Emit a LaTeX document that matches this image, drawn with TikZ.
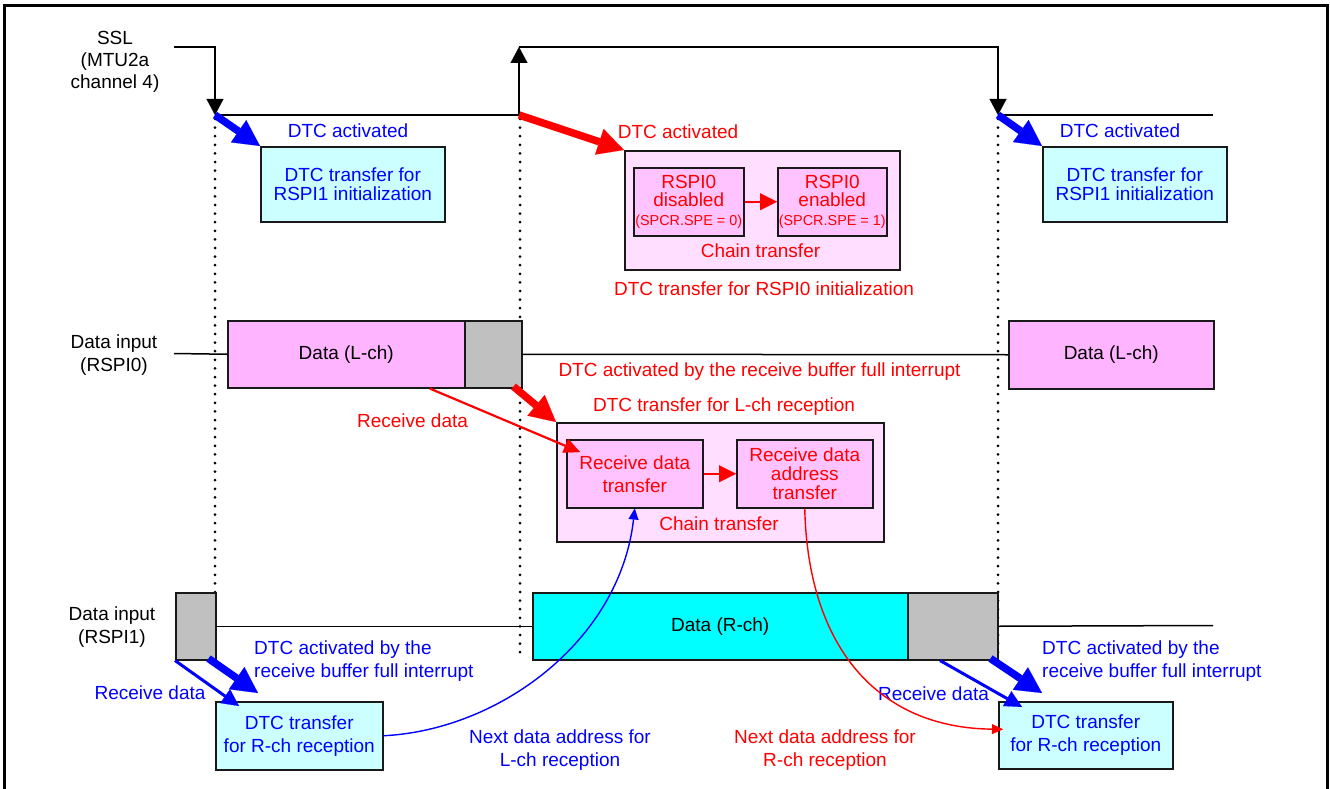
\documentclass[tikz,border=0pt]{standalone}
\usepackage{fontspec}
\setmainfont{Liberation Sans}
\usetikzlibrary{arrows.meta,calc}
\definecolor{rd}{RGB}{255,0,0}
\definecolor{bl}{RGB}{0,0,255}
\definecolor{ltcyan}{RGB}{204,255,255}
\definecolor{fullcyan}{RGB}{0,255,255}
\definecolor{pinkdata}{RGB}{255,180,255}
\definecolor{pinkouter}{RGB}{255,222,255}
\definecolor{pinkinner}{RGB}{255,196,255}
\definecolor{grayfill}{RGB}{192,192,192}
\newcommand\fA{\fontsize{19}{18.7}\selectfont}
\newcommand\fB{\fontsize{19}{23}\selectfont}
\newcommand\fC{\fontsize{19}{22}\selectfont}
\newcommand\fS{\fontsize{14.4}{14}\selectfont}
\begin{document}
\begin{tikzpicture}[x=1pt,y=-1pt,
  sig/.style={line width=2.5pt, line join=miter},
  sigtip/.style={-{Triangle[length=16pt,width=17pt,line width=0.1pt]}},
  dotv/.style={line width=3pt, line cap=round, dash pattern=on 0pt off 8.6pt},
  wire/.style={line width=1.5pt},
  bx/.style={draw=black!90, line width=1.5pt, inner sep=0pt, align=center, anchor=north west},
  lbl/.style={inner sep=0pt, align=center},
  fat/.style={line width=7.5pt, -{Triangle[length=26pt,width=27pt,line width=0.1pt]}},
  thinr/.style={rd, line width=2.2pt, -{Triangle[length=16pt,width=15pt,line width=0.1pt]}},
  thinb/.style={bl, line width=3pt, -{Triangle[length=17pt,width=17pt,line width=0.1pt]}},
  chainr/.style={rd, line width=2.5pt, -{Triangle[length=17pt,width=17pt,line width=0.1pt]}},
  bcurve/.style={bl, line width=1.4pt, -{Triangle[length=11pt,width=10pt,line width=0.1pt]}},
  rcurve/.style={rd, line width=1.4pt, -{Triangle[length=11pt,width=10pt,line width=0.1pt]}}
]
\useasboundingbox (0,0) rectangle (1330,789);
% frame
\draw[line width=3pt] (4.5,789) -- (4.5,6) -- (1327.5,6) -- (1327.5,789);

% dotted guides
\draw[dotv] (215,119) -- (215,657);
\draw[dotv] (520,119) -- (520,657);
\draw[dotv] (998,119) -- (998,657);

% SSL waveform
\coordinate (s0) at (174,47);
\coordinate (s1) at (215,47);
\coordinate (e1) at (215,115);
\coordinate (e2) at (519,115);
\coordinate (t2) at (519,47);
\coordinate (t3) at (998,47);
\coordinate (e3) at (998,115);
\coordinate (s4) at (1213,115);
\draw[sig, sigtip] (s0) -- (s1) -- (e1);
\draw[sig, sigtip] (e1) -- (e2) -- (t2);
\draw[sig, sigtip] (t2) -- (t3) -- (e3);
\draw[sig] (e3) -- (s4);

% left labels
\node[lbl, font=\fC] (ssl) at (115,62) {SSL\\(MTU2a\\channel 4)};
\node[lbl, font=\fB] (in0) at (114,355) {Data input\\(RSPI0)};
\node[lbl, font=\fB] (in1) at (112,627) {Data input\\(RSPI1)};

% top row
\node[lbl, font=\fA, text=bl] (actL) at (348,131) {DTC activated};
\node[lbl, font=\fA, text=rd] (actM) at (678,132) {DTC activated};
\node[lbl, font=\fA, text=bl] (actR) at (1120,131) {DTC activated};
\node[bx, fill=ltcyan, minimum width=184pt, minimum height=75pt, font=\fA, text=bl] (cyanL) at (260,146) {DTC transfer for\\RSPI1 initialization};
\node[bx, fill=ltcyan, minimum width=184pt, minimum height=75pt, font=\fA, text=bl] (cyanR) at (1042,146) {DTC transfer for\\RSPI1 initialization};
\node[bx, fill=pinkouter, minimum width=275pt, minimum height=119pt] (ch1) at (624,150) {};
\node[bx, fill=pinkinner, minimum width=110pt, minimum height=68pt, font=\fA, text=rd] (dis) at (633,167) {RSPI0\\disabled\\{\fS(SPCR.SPE = 0)}};
\node[bx, fill=pinkinner, minimum width=109pt, minimum height=68pt, font=\fA, text=rd] (en) at (777,167) {RSPI0\\enabled\\{\fS(SPCR.SPE = 1)}};
\node[lbl, font=\fA, text=rd] (ch1lbl) at (760.5,250.5) {Chain transfer};
\node[lbl, font=\fA, text=rd] (initlbl) at (764,289) {DTC transfer for RSPI0 initialization};

% RSPI0 data row
\node[bx, fill=pinkdata, minimum width=237pt, minimum height=67pt, font=\fA] (dataL) at (227,320) {Data (L-ch)};
\node[bx, fill=grayfill, minimum width=57pt, minimum height=67pt] (grayL) at (464,320) {};
\node[bx, fill=pinkdata, minimum width=205pt, minimum height=68pt, font=\fA] (dataL2) at (1008,320) {Data (L-ch)};
\draw[wire] (174,353.5) -- (dataL.west);
\draw[wire] (grayL.east) -- (dataL2.west);
\node[lbl, font=\fA, text=rd] (bufred) at (759.5,372) {DTC activated by the receive buffer full interrupt};
\node[lbl, font=\fA, text=rd] (lrecv) at (724,407) {DTC transfer for L-ch reception};
\node[lbl, font=\fA, text=rd] (recvred) at (412.5,420.5) {Receive data};

% L-ch chain box
\node[bx, fill=pinkouter, minimum width=327pt, minimum height=119pt] (ch2) at (556,422) {};
\node[bx, fill=pinkinner, minimum width=136pt, minimum height=68pt, font=\fB, text=rd] (rdt) at (566,439) {Receive data\\transfer};
\node[bx, fill=pinkinner, minimum width=136pt, minimum height=68pt, font=\fA, text=rd] (rda) at (736,439) {Receive data\\address\\transfer};
\node[lbl, font=\fA, text=rd] (ch2lbl) at (719,523.5) {Chain transfer};

% RSPI1 data row
\node[bx, fill=grayfill, minimum width=40pt, minimum height=67pt] (grayR1) at (175,592) {};
\node[bx, fill=fullcyan, minimum width=375pt, minimum height=67pt, font=\fA] (dataR) at (532,592) {Data (R-ch)};
\node[bx, fill=grayfill, minimum width=90pt, minimum height=67pt] (grayR2) at (907,592) {};
\draw[wire] (grayR1.east) -- (dataR.west);
\draw[wire] (grayR2.east) -- (1213,625.5);

% bottom boxes and texts
\node[bx, fill=ltcyan, minimum width=167pt, minimum height=68pt, font=\fB, text=bl] (dtcL) at (215,701) {DTC transfer\\for R-ch reception};
\node[bx, fill=ltcyan, minimum width=174pt, minimum height=67pt, font=\fB, text=bl] (dtcR) at (998,701) {DTC transfer\\for R-ch reception};
\node[lbl, align=left, anchor=west, font=\fB, text=bl] (bufL) at (254,660.7) {DTC activated by the\\receive buffer full interrupt};
\node[lbl, align=left, anchor=west, font=\fB, text=bl] (bufR) at (1042,660.7) {DTC activated by the\\receive buffer full interrupt};
\node[lbl, font=\fA, text=bl] (recvL) at (150,693) {Receive data};
\node[lbl, font=\fA, text=bl] (recvR) at (933.5,694) {Receive data};
\node[lbl, font=\fB, text=bl] (nextL) at (560,749.7) {Next data address for\\L-ch reception};
\node[lbl, font=\fB, text=rd] (nextR) at (825,749.7) {Next data address for\\R-ch reception};

% activation arrows
\draw[fat, bl] (e1) -- (cyanL.north west);
\draw[fat, rd] (e2) -- (ch1.north west);
\draw[fat, bl] (e3) -- (cyanR.north west);
\draw[fat, rd] ($(grayL.south east)+(-9,-2)$) -- (ch2.north west);
\draw[thinr] ($(dataL.south)+(83.5,0)$) -- ($(rdt.north west)+(14,13)$);
\draw[chainr] (dis.east) -- (en.west);
\draw[chainr] (rdt.east) -- (rda.west);
\draw[thinb] (grayR1.south west) -- ($(dtcL.north west)+(24,5)$);
\draw[fat, bl] ($(grayR1.south east)+(-8,-2)$) -- ($(dtcL.north west)+(43,-8)$);
\draw[thinb] ($(grayR2.south west)+(33,0)$) -- ($(dtcR.north west)+(24,6)$);
\draw[fat, bl] ($(grayR2.south east)+(-8,-2)$) -- ($(dtcR.north west)+(44,-8)$);

% address curves
\draw[bcurve] (dtcL.east) .. controls (500,730) and (620,640) .. (rdt.south);
\draw[rcurve] (rda.south) .. controls (808,650) and (880,728) .. ($(dtcR.west)+(5,-6)$);
\end{tikzpicture}
\end{document}
